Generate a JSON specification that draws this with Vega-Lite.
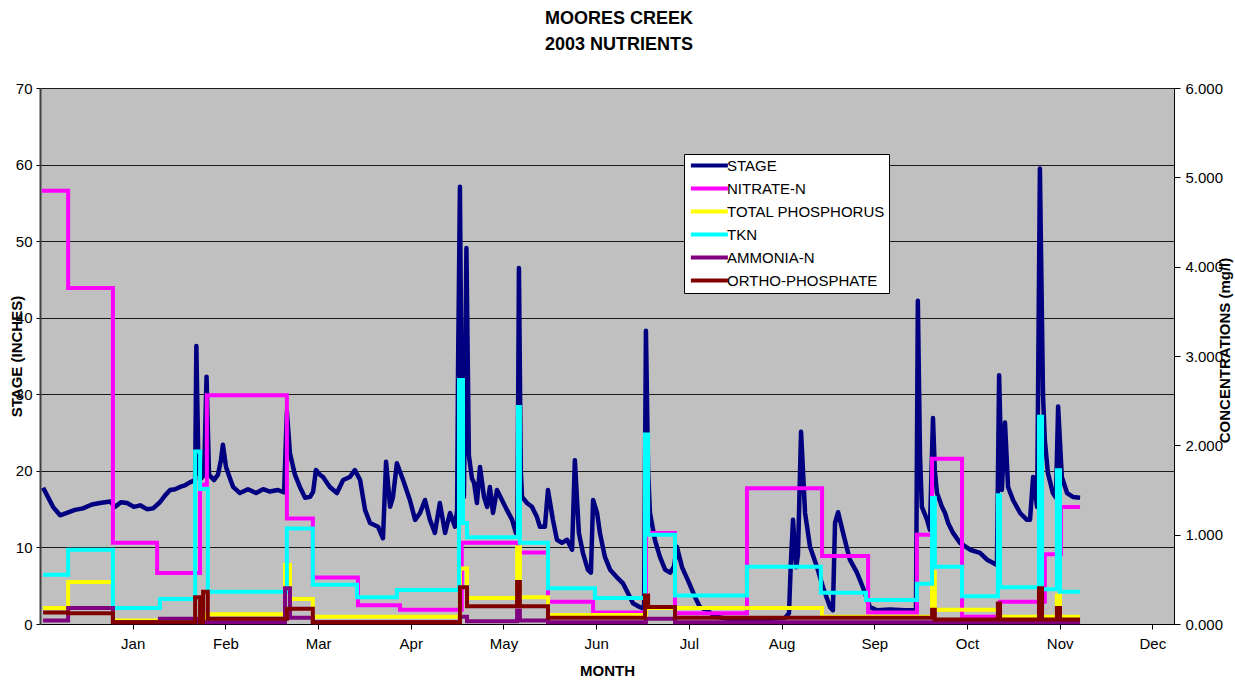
{
  "$schema": "https://vega.github.io/schema/vega-lite/v6.json",
  "width": 1134,
  "height": 536,
  "autosize": {"type": "none"},
  "padding": {"left": 40, "top": 88, "right": 61, "bottom": 58},
  "background": "white",
  "config": {
    "view": {"fill": "#c0c0c0", "stroke": null},
    "font": "Liberation Sans",
    "axis": {"labelFont": "Liberation Sans", "titleFont": "Liberation Sans", "labelColor": "black", "titleColor": "black", "labelFontSize": 15, "titleFontSize": 15, "titleFontWeight": "bold", "tickColor": "black", "domainColor": "black"},
    "legend": {
      "orient": "none", "legendX": 644, "legendY": 66, "title": null,
      "fillColor": "white", "strokeColor": "black", "padding": 4,
      "symbolType": "M-1,0H7", "symbolSize": 85.6, "symbolStrokeWidth": 4,
      "labelFont": "Liberation Sans", "labelFontSize": 15, "labelColor": "black",
      "rowPadding": 6, "labelOffset": 24
    }
  },
  "title": {
    "text": ["MOORES CREEK", "2003 NUTRIENTS"],
    "font": "Liberation Sans",
    "fontSize": 18,
    "fontWeight": "bold",
    "color": "black",
    "anchor": "middle",
    "frame": "group",
    "dx": 12,
    "offset": 27,
    "lineHeight": 26
  },
  "datasets": {
    "stage": [
      {"day": -22.0, "stage": 17.8}, {"day": -20.7, "stage": 16.8}, {"day": -18.8, "stage": 15.3}, {"day": -16.5, "stage": 14.2},
      {"day": -14.3, "stage": 14.5}, {"day": -11.7, "stage": 14.9}, {"day": -9.1, "stage": 15.1}, {"day": -6.2, "stage": 15.6},
      {"day": -3.6, "stage": 15.8}, {"day": -0.3, "stage": 16.0}, {"day": 1.3, "stage": 15.3}, {"day": 3.2, "stage": 15.9},
      {"day": 5.2, "stage": 15.8}, {"day": 7.4, "stage": 15.3}, {"day": 9.4, "stage": 15.5}, {"day": 11.6, "stage": 15.0},
      {"day": 13.6, "stage": 15.1}, {"day": 15.8, "stage": 15.9}, {"day": 17.5, "stage": 16.8}, {"day": 19.1, "stage": 17.5},
      {"day": 20.7, "stage": 17.6}, {"day": 22.3, "stage": 17.9}, {"day": 23.9, "stage": 18.1}, {"day": 25.5, "stage": 18.5},
      {"day": 27.2, "stage": 18.8}, {"day": 27.6, "stage": 36.3}, {"day": 28.3, "stage": 20.0}, {"day": 29.1, "stage": 19.0},
      {"day": 30.1, "stage": 19.5}, {"day": 30.9, "stage": 32.3}, {"day": 31.7, "stage": 19.5}, {"day": 33.3, "stage": 18.8},
      {"day": 34.6, "stage": 19.5}, {"day": 35.6, "stage": 21.5}, {"day": 36.2, "stage": 23.4}, {"day": 37.2, "stage": 20.5},
      {"day": 38.5, "stage": 19.0}, {"day": 39.5, "stage": 17.9}, {"day": 41.7, "stage": 17.1}, {"day": 44.3, "stage": 17.6},
      {"day": 46.9, "stage": 17.1}, {"day": 49.2, "stage": 17.6}, {"day": 51.4, "stage": 17.3}, {"day": 54.0, "stage": 17.5},
      {"day": 56.0, "stage": 17.2}, {"day": 56.9, "stage": 27.7}, {"day": 57.9, "stage": 22.3}, {"day": 59.5, "stage": 19.5},
      {"day": 61.1, "stage": 17.9}, {"day": 62.8, "stage": 16.5}, {"day": 64.4, "stage": 16.6}, {"day": 65.4, "stage": 17.3},
      {"day": 66.3, "stage": 20.1}, {"day": 67.6, "stage": 19.5}, {"day": 68.6, "stage": 19.2}, {"day": 70.8, "stage": 17.9},
      {"day": 73.1, "stage": 17.1}, {"day": 75.1, "stage": 18.8}, {"day": 77.3, "stage": 19.2}, {"day": 78.9, "stage": 20.1},
      {"day": 80.6, "stage": 18.8}, {"day": 82.2, "stage": 14.9}, {"day": 83.8, "stage": 13.2}, {"day": 86.4, "stage": 12.7},
      {"day": 88.0, "stage": 11.2}, {"day": 89.0, "stage": 21.2}, {"day": 90.3, "stage": 15.3}, {"day": 91.2, "stage": 16.5},
      {"day": 92.5, "stage": 21.0}, {"day": 94.5, "stage": 18.8}, {"day": 96.7, "stage": 16.2}, {"day": 98.4, "stage": 13.6},
      {"day": 100.0, "stage": 14.5}, {"day": 101.6, "stage": 16.2}, {"day": 103.2, "stage": 13.6}, {"day": 104.8, "stage": 11.9},
      {"day": 106.4, "stage": 15.8}, {"day": 108.1, "stage": 11.9}, {"day": 109.7, "stage": 14.5}, {"day": 111.3, "stage": 12.7},
      {"day": 112.0, "stage": 14.9}, {"day": 112.3, "stage": 33.5}, {"day": 112.9, "stage": 57.1}, {"day": 113.6, "stage": 20.0},
      {"day": 114.2, "stage": 16.6}, {"day": 115.0, "stage": 49.1}, {"day": 115.8, "stage": 22.0}, {"day": 116.8, "stage": 19.0},
      {"day": 117.5, "stage": 18.4}, {"day": 118.4, "stage": 15.8}, {"day": 119.4, "stage": 20.5}, {"day": 120.7, "stage": 16.6},
      {"day": 121.7, "stage": 15.3}, {"day": 122.6, "stage": 17.9}, {"day": 123.6, "stage": 14.5}, {"day": 124.9, "stage": 17.5},
      {"day": 126.5, "stage": 16.2}, {"day": 128.1, "stage": 14.9}, {"day": 129.8, "stage": 13.6}, {"day": 131.0, "stage": 11.9},
      {"day": 131.5, "stage": 12.0}, {"day": 132.0, "stage": 46.5}, {"day": 132.6, "stage": 20.0}, {"day": 133.0, "stage": 16.6},
      {"day": 134.6, "stage": 15.8}, {"day": 136.2, "stage": 15.3}, {"day": 137.8, "stage": 14.0}, {"day": 138.8, "stage": 12.7},
      {"day": 140.4, "stage": 12.7}, {"day": 141.4, "stage": 17.5}, {"day": 143.0, "stage": 13.6}, {"day": 144.3, "stage": 11.0},
      {"day": 145.9, "stage": 10.6}, {"day": 147.6, "stage": 11.0}, {"day": 149.2, "stage": 9.7}, {"day": 150.1, "stage": 21.4},
      {"day": 151.4, "stage": 11.9}, {"day": 152.7, "stage": 9.3}, {"day": 154.3, "stage": 7.1}, {"day": 155.3, "stage": 6.7},
      {"day": 156.0, "stage": 16.2}, {"day": 157.3, "stage": 14.5}, {"day": 158.2, "stage": 11.9}, {"day": 159.8, "stage": 8.8},
      {"day": 161.5, "stage": 7.1}, {"day": 163.7, "stage": 6.1}, {"day": 165.7, "stage": 5.3}, {"day": 167.3, "stage": 4.0},
      {"day": 168.9, "stage": 2.7}, {"day": 171.2, "stage": 2.2}, {"day": 172.5, "stage": 2.0}, {"day": 173.1, "stage": 38.3},
      {"day": 173.8, "stage": 20.0}, {"day": 174.4, "stage": 14.5}, {"day": 176.0, "stage": 11.0}, {"day": 177.6, "stage": 8.8},
      {"day": 179.3, "stage": 7.1}, {"day": 180.9, "stage": 6.7}, {"day": 182.2, "stage": 7.5}, {"day": 183.1, "stage": 10.1},
      {"day": 184.8, "stage": 7.4}, {"day": 186.7, "stage": 5.7}, {"day": 189.0, "stage": 3.5}, {"day": 190.6, "stage": 2.2},
      {"day": 192.9, "stage": 1.8}, {"day": 195.4, "stage": 1.0}, {"day": 200.3, "stage": 0.6}, {"day": 206.8, "stage": 0.5},
      {"day": 213.2, "stage": 0.7}, {"day": 218.1, "stage": 0.8}, {"day": 219.4, "stage": 1.4}, {"day": 220.0, "stage": 8.0},
      {"day": 220.7, "stage": 13.6}, {"day": 221.7, "stage": 7.4}, {"day": 222.3, "stage": 9.0}, {"day": 223.3, "stage": 25.1},
      {"day": 224.6, "stage": 14.5}, {"day": 226.2, "stage": 10.1}, {"day": 228.5, "stage": 7.4}, {"day": 230.4, "stage": 4.8},
      {"day": 232.7, "stage": 2.2}, {"day": 233.6, "stage": 1.8}, {"day": 234.3, "stage": 13.2}, {"day": 235.3, "stage": 14.6},
      {"day": 236.9, "stage": 11.9}, {"day": 239.1, "stage": 8.4}, {"day": 241.4, "stage": 6.7}, {"day": 243.3, "stage": 4.8},
      {"day": 245.6, "stage": 2.2}, {"day": 247.9, "stage": 1.8}, {"day": 252.1, "stage": 1.9}, {"day": 256.9, "stage": 1.8},
      {"day": 260.5, "stage": 1.8}, {"day": 261.1, "stage": 42.2}, {"day": 261.8, "stage": 22.0}, {"day": 262.4, "stage": 15.3},
      {"day": 264.1, "stage": 13.6}, {"day": 265.0, "stage": 12.3}, {"day": 266.0, "stage": 26.9}, {"day": 266.6, "stage": 20.0},
      {"day": 267.3, "stage": 17.1}, {"day": 268.9, "stage": 15.3}, {"day": 269.9, "stage": 14.5}, {"day": 270.9, "stage": 13.2},
      {"day": 272.5, "stage": 11.9}, {"day": 274.7, "stage": 10.6}, {"day": 278.0, "stage": 9.7}, {"day": 281.2, "stage": 9.3},
      {"day": 283.5, "stage": 8.4}, {"day": 286.7, "stage": 7.7}, {"day": 287.4, "stage": 32.5}, {"day": 288.3, "stage": 17.5},
      {"day": 289.3, "stage": 26.3}, {"day": 290.3, "stage": 17.9}, {"day": 291.9, "stage": 16.2}, {"day": 294.2, "stage": 14.5},
      {"day": 296.4, "stage": 13.6}, {"day": 297.4, "stage": 13.6}, {"day": 298.4, "stage": 19.2}, {"day": 299.7, "stage": 15.3},
      {"day": 300.6, "stage": 59.5}, {"day": 301.6, "stage": 30.0}, {"day": 302.2, "stage": 24.0}, {"day": 303.2, "stage": 19.7},
      {"day": 304.8, "stage": 17.1}, {"day": 305.8, "stage": 16.5}, {"day": 306.5, "stage": 28.4}, {"day": 307.7, "stage": 19.2},
      {"day": 309.4, "stage": 17.1}, {"day": 311.3, "stage": 16.6}, {"day": 313.6, "stage": 16.5}
    ],
    "conc": [
      {"series": "NITRATE-N", "day": -22.4, "value": 4.85}, {"series": "NITRATE-N", "day": -13.9, "value": 3.76},
      {"series": "NITRATE-N", "day": 0.6, "value": 0.91}, {"series": "NITRATE-N", "day": 14.9, "value": 0.57},
      {"series": "NITRATE-N", "day": 28.8, "value": 1.56}, {"series": "NITRATE-N", "day": 31.0, "value": 2.56},
      {"series": "NITRATE-N", "day": 56.9, "value": 1.18}, {"series": "NITRATE-N", "day": 65.3, "value": 0.52},
      {"series": "NITRATE-N", "day": 79.9, "value": 0.21}, {"series": "NITRATE-N", "day": 93.5, "value": 0.16},
      {"series": "NITRATE-N", "day": 113.5, "value": 0.91}, {"series": "NITRATE-N", "day": 131.7, "value": 0.8},
      {"series": "NITRATE-N", "day": 141.4, "value": 0.25}, {"series": "NITRATE-N", "day": 156.0, "value": 0.13},
      {"series": "NITRATE-N", "day": 173.1, "value": 1.02}, {"series": "NITRATE-N", "day": 182.5, "value": 0.12},
      {"series": "NITRATE-N", "day": 205.8, "value": 1.52}, {"series": "NITRATE-N", "day": 230.1, "value": 0.76},
      {"series": "NITRATE-N", "day": 245.0, "value": 0.13}, {"series": "NITRATE-N", "day": 260.8, "value": 1.0},
      {"series": "NITRATE-N", "day": 265.7, "value": 1.85}, {"series": "NITRATE-N", "day": 275.4, "value": 0.08},
      {"series": "NITRATE-N", "day": 287.7, "value": 0.25}, {"series": "NITRATE-N", "day": 302.2, "value": 0.78},
      {"series": "NITRATE-N", "day": 307.4, "value": 1.31}, {"series": "NITRATE-N", "day": 313.6, "value": 1.31},

      {"series": "TOTAL PHOSPHORUS", "day": -22.0, "value": 0.18}, {"series": "TOTAL PHOSPHORUS", "day": -13.9, "value": 0.47},
      {"series": "TOTAL PHOSPHORUS", "day": 0.6, "value": 0.04}, {"series": "TOTAL PHOSPHORUS", "day": 27.5, "value": 0.06},
      {"series": "TOTAL PHOSPHORUS", "day": 31.0, "value": 0.11}, {"series": "TOTAL PHOSPHORUS", "day": 56.3, "value": 0.66},
      {"series": "TOTAL PHOSPHORUS", "day": 57.9, "value": 0.28}, {"series": "TOTAL PHOSPHORUS", "day": 65.3, "value": 0.08},
      {"series": "TOTAL PHOSPHORUS", "day": 112.9, "value": 0.62}, {"series": "TOTAL PHOSPHORUS", "day": 115.2, "value": 0.29},
      {"series": "TOTAL PHOSPHORUS", "day": 131.4, "value": 0.86}, {"series": "TOTAL PHOSPHORUS", "day": 132.3, "value": 0.3},
      {"series": "TOTAL PHOSPHORUS", "day": 141.4, "value": 0.1}, {"series": "TOTAL PHOSPHORUS", "day": 173.1, "value": 0.18},
      {"series": "TOTAL PHOSPHORUS", "day": 230.1, "value": 0.08}, {"series": "TOTAL PHOSPHORUS", "day": 265.7, "value": 0.58},
      {"series": "TOTAL PHOSPHORUS", "day": 266.6, "value": 0.16}, {"series": "TOTAL PHOSPHORUS", "day": 287.0, "value": 0.08},
      {"series": "TOTAL PHOSPHORUS", "day": 306.1, "value": 0.32}, {"series": "TOTAL PHOSPHORUS", "day": 307.1, "value": 0.08},
      {"series": "TOTAL PHOSPHORUS", "day": 313.6, "value": 0.08},

      {"series": "TKN", "day": -22.0, "value": 0.55}, {"series": "TKN", "day": -13.9, "value": 0.83},
      {"series": "TKN", "day": 0.6, "value": 0.18}, {"series": "TKN", "day": 15.8, "value": 0.28},
      {"series": "TKN", "day": 27.2, "value": 1.93}, {"series": "TKN", "day": 28.8, "value": 1.51},
      {"series": "TKN", "day": 31.3, "value": 0.36}, {"series": "TKN", "day": 56.9, "value": 1.07},
      {"series": "TKN", "day": 65.3, "value": 0.44}, {"series": "TKN", "day": 79.6, "value": 0.3},
      {"series": "TKN", "day": 92.5, "value": 0.38}, {"series": "TKN", "day": 112.6, "value": 2.73},
      {"series": "TKN", "day": 113.9, "value": 1.13}, {"series": "TKN", "day": 115.2, "value": 0.97},
      {"series": "TKN", "day": 131.7, "value": 2.43}, {"series": "TKN", "day": 132.3, "value": 0.91},
      {"series": "TKN", "day": 141.4, "value": 0.4}, {"series": "TKN", "day": 156.6, "value": 0.29},
      {"series": "TKN", "day": 172.8, "value": 2.12}, {"series": "TKN", "day": 173.8, "value": 1.0},
      {"series": "TKN", "day": 182.5, "value": 0.32}, {"series": "TKN", "day": 205.8, "value": 0.64},
      {"series": "TKN", "day": 229.7, "value": 0.35}, {"series": "TKN", "day": 244.3, "value": 0.27},
      {"series": "TKN", "day": 260.8, "value": 0.45}, {"series": "TKN", "day": 265.7, "value": 1.41},
      {"series": "TKN", "day": 266.6, "value": 0.64}, {"series": "TKN", "day": 275.4, "value": 0.31},
      {"series": "TKN", "day": 287.0, "value": 1.44}, {"series": "TKN", "day": 287.7, "value": 0.41},
      {"series": "TKN", "day": 300.3, "value": 2.32}, {"series": "TKN", "day": 301.3, "value": 0.39},
      {"series": "TKN", "day": 306.1, "value": 1.72}, {"series": "TKN", "day": 307.1, "value": 0.36},
      {"series": "TKN", "day": 313.6, "value": 0.36},

      {"series": "AMMONIA-N", "day": -22.0, "value": 0.04}, {"series": "AMMONIA-N", "day": -13.9, "value": 0.18},
      {"series": "AMMONIA-N", "day": 0.6, "value": 0.02}, {"series": "AMMONIA-N", "day": 15.8, "value": 0.06},
      {"series": "AMMONIA-N", "day": 27.5, "value": 0.02}, {"series": "AMMONIA-N", "day": 56.3, "value": 0.4},
      {"series": "AMMONIA-N", "day": 57.9, "value": 0.07}, {"series": "AMMONIA-N", "day": 65.3, "value": 0.02},
      {"series": "AMMONIA-N", "day": 112.9, "value": 0.08}, {"series": "AMMONIA-N", "day": 115.2, "value": 0.03},
      {"series": "AMMONIA-N", "day": 131.4, "value": 0.15}, {"series": "AMMONIA-N", "day": 132.3, "value": 0.04},
      {"series": "AMMONIA-N", "day": 141.4, "value": 0.02}, {"series": "AMMONIA-N", "day": 173.1, "value": 0.06},
      {"series": "AMMONIA-N", "day": 182.5, "value": 0.02}, {"series": "AMMONIA-N", "day": 313.6, "value": 0.02},

      {"series": "ORTHO-PHOSPHATE", "day": -22.0, "value": 0.13}, {"series": "ORTHO-PHOSPHATE", "day": -13.9, "value": 0.12},
      {"series": "ORTHO-PHOSPHATE", "day": 0.6, "value": 0.02}, {"series": "ORTHO-PHOSPHATE", "day": 27.2, "value": 0.3},
      {"series": "ORTHO-PHOSPHATE", "day": 28.8, "value": 0.02}, {"series": "ORTHO-PHOSPHATE", "day": 29.8, "value": 0.36},
      {"series": "ORTHO-PHOSPHATE", "day": 31.3, "value": 0.06}, {"series": "ORTHO-PHOSPHATE", "day": 56.9, "value": 0.17},
      {"series": "ORTHO-PHOSPHATE", "day": 65.3, "value": 0.02}, {"series": "ORTHO-PHOSPHATE", "day": 112.9, "value": 0.41},
      {"series": "ORTHO-PHOSPHATE", "day": 115.2, "value": 0.2}, {"series": "ORTHO-PHOSPHATE", "day": 131.4, "value": 0.47},
      {"series": "ORTHO-PHOSPHATE", "day": 132.3, "value": 0.2}, {"series": "ORTHO-PHOSPHATE", "day": 141.4, "value": 0.07},
      {"series": "ORTHO-PHOSPHATE", "day": 172.8, "value": 0.32}, {"series": "ORTHO-PHOSPHATE", "day": 173.8, "value": 0.19},
      {"series": "ORTHO-PHOSPHATE", "day": 182.5, "value": 0.07}, {"series": "ORTHO-PHOSPHATE", "day": 265.7, "value": 0.16},
      {"series": "ORTHO-PHOSPHATE", "day": 266.6, "value": 0.05}, {"series": "ORTHO-PHOSPHATE", "day": 287.0, "value": 0.23},
      {"series": "ORTHO-PHOSPHATE", "day": 287.7, "value": 0.05}, {"series": "ORTHO-PHOSPHATE", "day": 300.3, "value": 0.4},
      {"series": "ORTHO-PHOSPHATE", "day": 301.3, "value": 0.05}, {"series": "ORTHO-PHOSPHATE", "day": 306.1, "value": 0.18},
      {"series": "ORTHO-PHOSPHATE", "day": 307.1, "value": 0.05}, {"series": "ORTHO-PHOSPHATE", "day": 313.6, "value": 0.05}
    ]
  },
  "layer": [
    {
      "data": {"name": "stage"},
      "mark": {"type": "line", "strokeWidth": 4.5, "strokeJoin": "round"},
      "encoding": {
        "x": {
          "field": "day", "type": "quantitative",
          "scale": {"domain": [-23, 344], "nice": false, "zero": false},
          "axis": {
            "values": [7, 37, 67, 97, 127, 157, 187, 217, 247, 277, 307, 337],
            "labelExpr": "['Jan','Feb','Mar','Apr','May','Jun','Jul','Aug','Sep','Oct','Nov','Dec'][round((datum.value - 7) / 30)]",
            "title": "MONTH", "grid": false, "tickSize": 5, "labelPadding": 7, "titlePadding": 12, "domainWidth": 1
          }
        },
        "y": {
          "field": "stage", "type": "quantitative",
          "scale": {"domain": [0, 70], "nice": false},
          "axis": {
            "values": [0, 10, 20, 30, 40, 50, 60, 70], "title": "STAGE (INCHES)",
            "grid": true, "gridColor": "#1a1a1a", "gridWidth": 1, "tickSize": 4, "labelPadding": 4,
            "domainWidth": 2, "domainColor": "#404040",
            "titleAngle": 270, "titleX": -19, "titleY": 268, "titleBaseline": "alphabetic", "titleAlign": "center"
          }
        },
        "color": {
          "datum": "STAGE", "type": "nominal",
          "scale": {
            "domain": ["STAGE", "NITRATE-N", "TOTAL PHOSPHORUS", "TKN", "AMMONIA-N", "ORTHO-PHOSPHATE"],
            "range": ["#000080", "#ff00ff", "#ffff00", "#00ffff", "#800080", "#800000"]
          },
          "legend": {"title": null}
        }
      }
    },
    {
      "data": {"name": "conc"},
      "mark": {"type": "line", "interpolate": "step-after", "strokeWidth": 4},
      "encoding": {
        "x": {"field": "day", "type": "quantitative", "scale": {"domain": [-23, 344], "nice": false, "zero": false}},
        "y": {
          "field": "value", "type": "quantitative",
          "scale": {"domain": [0, 6], "nice": false},
          "axis": {
            "orient": "right", "values": [0, 1, 2, 3, 4, 5, 6], "format": ".3f",
            "title": "CONCENTRATIONS (mg/l)", "grid": false, "tickSize": 6, "labelPadding": 5,
            "domainWidth": 1,
            "titleAngle": 270, "titleX": 55, "titleY": 262, "titleBaseline": "alphabetic", "titleAlign": "center"
          }
        },
        "color": {"field": "series", "type": "nominal", "legend": {"title": null}}
      }
    }
  ],
  "resolve": {"scale": {"y": "independent"}}
}
